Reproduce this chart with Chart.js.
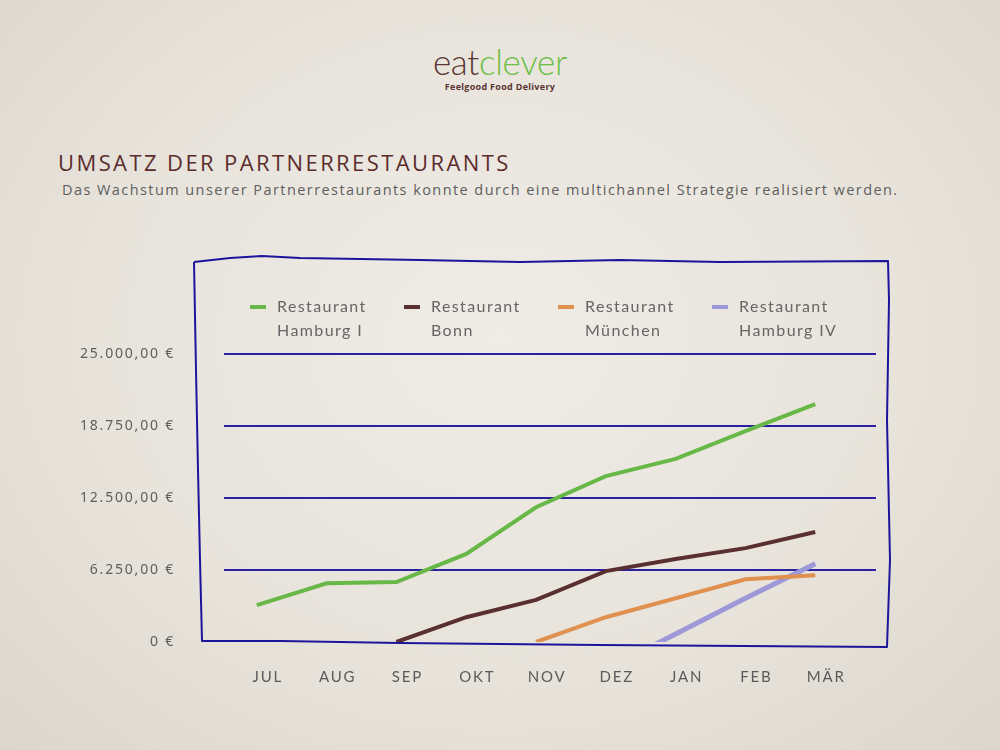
<!DOCTYPE html>
<html>
<head>
<meta charset="utf-8">
<script src="https://cdn.jsdelivr.net/npm/chart.js@4.4.1/dist/chart.umd.min.js"></script>
<style>
  html, body { margin: 0; padding: 0; }
  body {
    width: 1000px; height: 750px; position: relative; overflow: hidden;
    background: radial-gradient(ellipse at 50% 45%, #efece6 0%, #e8e4dc 55%, #dcd7cd 100%);
    font-family: "Open Sans", sans-serif;
  }
  #chart { position: absolute; left: 0; top: 0; }
  .logo { position: absolute; left: 0; width: 1000px; top: 41px; text-align: center; }
  .logo .name { font-family: Lato, sans-serif; font-weight: 300; font-size: 35px; letter-spacing: -0.3px; line-height: 40px; }
  .logo .eat { color: #5a3532; }
  .logo .clever { color: #6cbf45; }
  .logo .tag { font-family: "Open Sans", sans-serif; font-weight: 700; font-size: 9px; color: #5a3532; margin-top: -1px; letter-spacing: 0.3px; }
  h1 { position: absolute; left: 58px; top: 147px; margin: 0; font-weight: 400; font-size: 22px; line-height: 30px; letter-spacing: 2.4px; color: #5b2c2c; }
  .sub { position: absolute; left: 62px; top: 180px; margin: 0; font-size: 14.5px; letter-spacing: 1.43px; color: #5e5e5e; }
</style>
</head>
<body>
<div class="logo">
  <div class="name"><span class="eat">eat</span><span class="clever">clever</span></div>
  <div class="tag">Feelgood Food Delivery</div>
</div>
<h1>UMSATZ DER PARTNERRESTAURANTS</h1>
<p class="sub">Das Wachstum unserer Partnerrestaurants konnte durch eine multichannel Strategie realisiert werden.</p>
<canvas id="chart" width="1000" height="750"></canvas>
<script>
// Monate
var months = ["JUL", "AUG", "SEP", "OKT", "NOV", "DEZ", "JAN", "FEB", "MÄR"];
var yTicks = [0, 6250, 12500, 18750, 25000];

// Umsatz pro Restaurant (null = noch nicht dabei)
var hamburg1 = [3200, 5100, 5200, 7650, 11700, 14400, 15900, 18300, 20650];
var bonn = [null, null, 0, 2150, 3650, 6150, 7200, 8150, 9550];
var muenchen = [null, null, null, null, 0, 2150, 3800, 5450, 5800];
var hamburg4 = [null, null, null, null, null, -2400, 700, 3800, 6800];

var names = ["Restaurant Hamburg I", "Restaurant Bonn", "Restaurant München", "Restaurant Hamburg IV"];
var colors = ["#67b846", "#5a2f2f", "#e0904f", "#9d98d8"];

function points(arr) {
  return arr.map(function (v, i) { return { x: i, y: v }; });
}

var gridBlue = "#2a20a0";

// handgezeichneter Rahmen + Legende
var deco = {
  id: "deco",
  beforeDraw: function (chart) {
    chart.ctx.letterSpacing = "1.8px";
  },
  afterDraw: function (chart) {
    var ctx = chart.ctx;
    var a = chart.chartArea;
    ctx.save();
    // frame
    ctx.strokeStyle = "#1d149c";
    ctx.lineWidth = 2;
    ctx.lineJoin = "round";
    ctx.beginPath();
    ctx.moveTo(194, 262);
    ctx.lineTo(230, 258);
    ctx.lineTo(262, 256);
    ctx.lineTo(300, 258);
    ctx.lineTo(420, 260);
    ctx.lineTo(520, 262);
    ctx.lineTo(620, 260);
    ctx.lineTo(720, 262);
    ctx.lineTo(888, 261);
    ctx.lineTo(889, 300);
    ctx.lineTo(887, 420);
    ctx.lineTo(890, 560);
    ctx.lineTo(887, 647);
    ctx.lineTo(600, 645);
    ctx.lineTo(400, 643);
    ctx.lineTo(280, 641);
    ctx.lineTo(202, 641);
    ctx.lineTo(200, 560);
    ctx.lineTo(198, 470);
    ctx.lineTo(196, 370);
    ctx.lineTo(194, 262);
    ctx.stroke();

    // legend
    ctx.letterSpacing = "1.4px";
    ctx.font = "16px Lato, sans-serif";
    ctx.textBaseline = "middle";
    ctx.textAlign = "left";
    var ly = a.top - 47;
    chart.data.datasets.forEach(function (ds, i) {
      var x = a.left + 26 + i * 154;
      ctx.fillStyle = ds.borderColor;
      ctx.fillRect(x, ly - 2, 16, 4);
      var sp = ds.label.indexOf(" ");
      ctx.fillStyle = "#666";
      ctx.fillText(ds.label.slice(0, sp), x + 27, ly);
      ctx.fillText(ds.label.slice(sp + 1), x + 27, ly + 24);
    });
    ctx.restore();
    ctx.letterSpacing = "0px";
  }
};

var ctx = document.getElementById("chart").getContext("2d");
var chart = new Chart(ctx, {
  type: "line",
  data: {
    datasets: [
      { label: names[0], data: points(hamburg1), borderColor: colors[0], borderWidth: 4 },
      { label: names[1], data: points(bonn), borderColor: colors[1], borderWidth: 4 },
      { label: names[2], data: points(muenchen), borderColor: colors[2], borderWidth: 4 },
      { label: names[3], data: points(hamburg4), borderColor: colors[3], borderWidth: 5, clip: 0 }
    ]
  },
  options: {
    responsive: false,
    animation: false,
    elements: { point: { radius: 0 }, line: { tension: 0, borderCapStyle: "butt" } },
    layout: { padding: { left: 0, right: 124, top: 354, bottom: 0 } },
    plugins: { legend: { display: false }, tooltip: { enabled: false } },
    scales: {
      x: {
        type: "linear",
        min: -0.47,
        max: 8.87,
        afterBuildTicks: function (scale) {
          scale.ticks = months.map(function (m, i) { return { value: i }; });
        },
        afterFit: function (scale) { scale.height = 108; },
        grid: { display: false, drawTicks: false },
        border: { display: false },
        ticks: {
          padding: 26,
          labelOffset: 11,
          color: "#5a5a5a",
          font: { family: "Lato", size: 15 },
          callback: function (v) { return months[v]; }
        }
      },
      y: {
        min: 0,
        max: 25000,
        afterBuildTicks: function (scale) {
          scale.ticks = yTicks.map(function (v) { return { value: v }; });
        },
        afterFit: function (scale) { scale.width = 224; },
        grid: {
          drawTicks: false,
          lineWidth: 2,
          color: function (c) { return c.tick && c.tick.value === 0 ? "rgba(0,0,0,0)" : gridBlue; }
        },
        border: { display: false },
        ticks: {
          padding: 49,
          color: "#5e5e5e",
          font: { family: "Noto Sans", size: 14 },
          callback: function (v) {
            if (v === 0) return "0 €";
            return v.toLocaleString("de-DE", { minimumFractionDigits: 2, maximumFractionDigits: 2 }) + " €";
          }
        }
      }
    }
  },
  plugins: [deco]
});
</script>
</body>
</html>
